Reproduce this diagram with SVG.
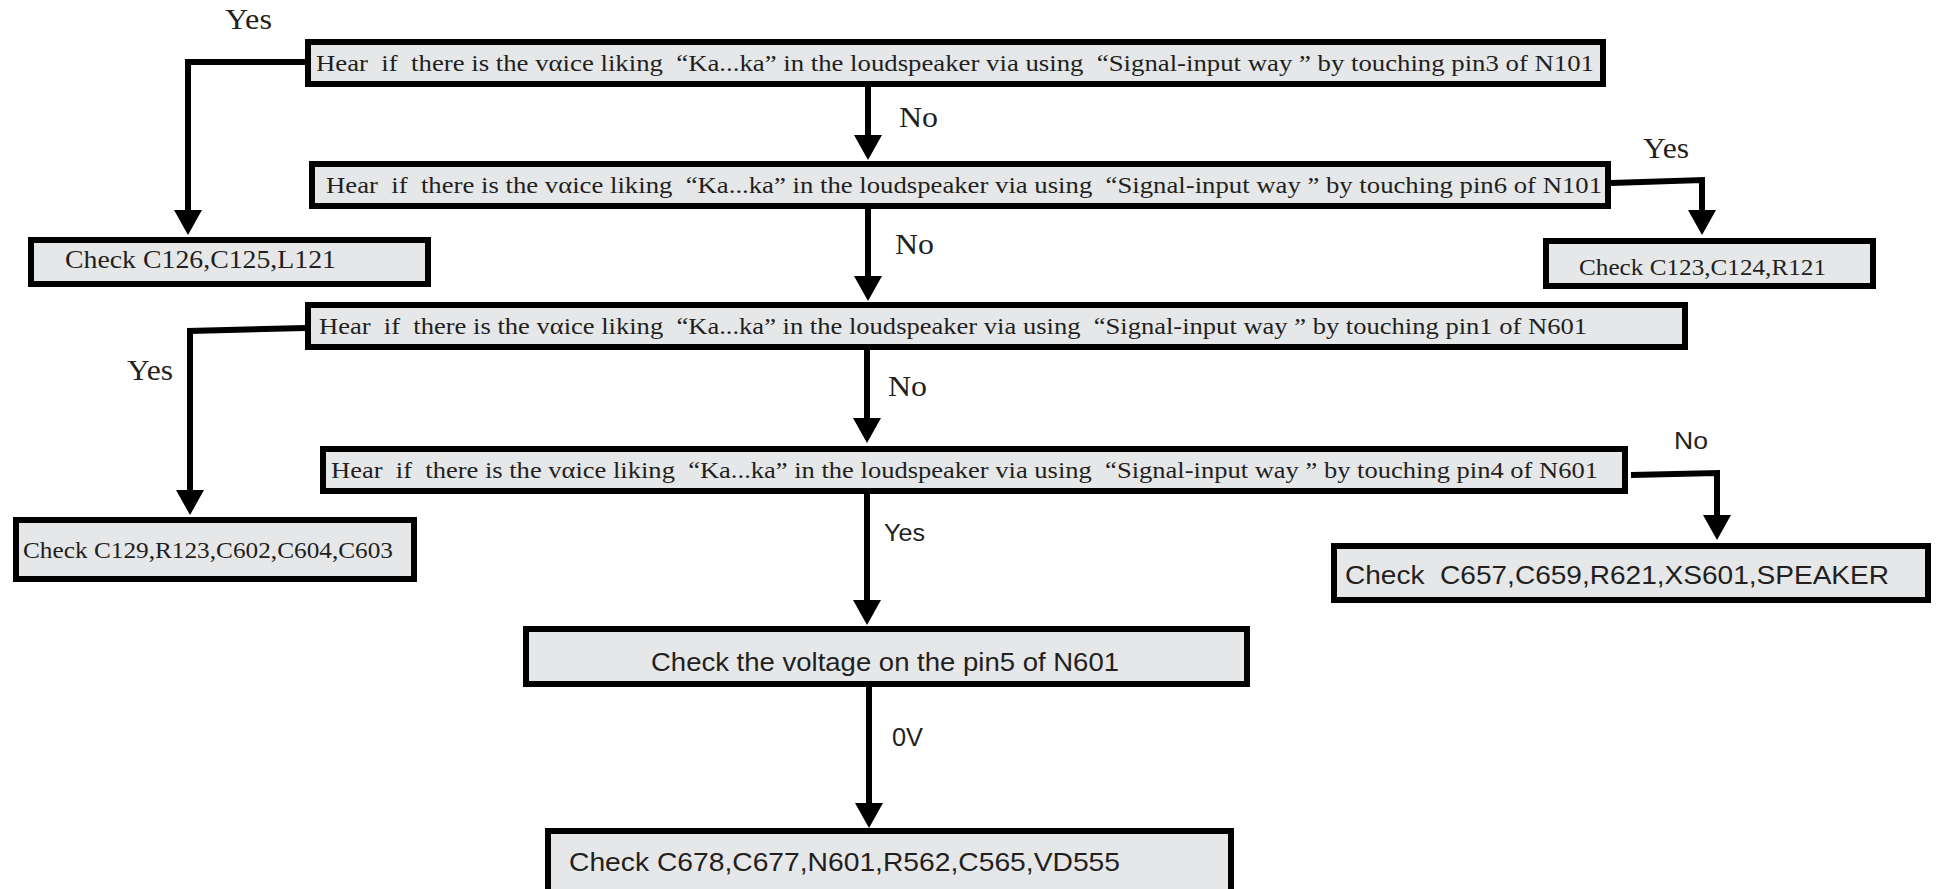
<svg xmlns="http://www.w3.org/2000/svg" width="1937" height="889" viewBox="0 0 1937 889">
  <style>
    .box { fill: #e6e7e9; stroke: #000; stroke-width: 6; }
    .serif { font-family: "Liberation Serif", "Times New Roman", serif; fill: #231f20; }
    .sans { font-family: "Liberation Sans", Arial, sans-serif; fill: #231f20; }
    .step { font-size: 24px; }
    .lbl { font-size: 30px; }
    .conn { fill: none; stroke: #000; stroke-width: 6; stroke-linejoin: miter; }
  </style>
  <defs>
    <marker id="arrow" markerUnits="userSpaceOnUse" markerWidth="26" markerHeight="28" viewBox="0 0 25 28" refX="0" refY="14" orient="auto">
      <path d="M0,0 L25,14 L0,28 Z" fill="#000"/>
    </marker>
  </defs>

  <rect width="1937" height="889" fill="#fff"/>

  <!-- connectors -->
  <g id="connectors">
    <path class="conn" d="M305,62 L188,62 L188,210" marker-end="url(#arrow)"/>
    <path class="conn" d="M868,87 L868,135" marker-end="url(#arrow)"/>
    <path class="conn" d="M1611,183 L1702,180 L1702,210" marker-end="url(#arrow)"/>
    <path class="conn" d="M868,209 L868,276" marker-end="url(#arrow)"/>
    <path class="conn" d="M305,328 L190,331 L190,490" marker-end="url(#arrow)"/>
    <path class="conn" d="M867,350 L867,418" marker-end="url(#arrow)"/>
    <path class="conn" d="M1631,475 L1717,473 L1717,515" marker-end="url(#arrow)"/>
    <path class="conn" d="M867,494 L867,600" marker-end="url(#arrow)"/>
    <path class="conn" d="M869,687 L869,803" marker-end="url(#arrow)"/>

    <text class="serif lbl" x="225" y="29" textLength="47" lengthAdjust="spacingAndGlyphs">Yes</text>
    <text class="serif lbl" x="899" y="127" textLength="39" lengthAdjust="spacingAndGlyphs">No</text>
    <text class="serif lbl" x="1643" y="158" textLength="46" lengthAdjust="spacingAndGlyphs">Yes</text>
    <text class="serif lbl" x="895" y="254" textLength="39" lengthAdjust="spacingAndGlyphs">No</text>
    <text class="serif lbl" x="127" y="380" textLength="46" lengthAdjust="spacingAndGlyphs">Yes</text>
    <text class="serif lbl" x="888" y="396" textLength="39" lengthAdjust="spacingAndGlyphs">No</text>
    <text class="sans" font-size="24" x="1674" y="449" textLength="34" lengthAdjust="spacingAndGlyphs">No</text>
    <text class="sans" font-size="24" x="884" y="541" textLength="41" lengthAdjust="spacingAndGlyphs">Yes</text>
    <text class="sans" font-size="25" x="892" y="746" textLength="31" lengthAdjust="spacingAndGlyphs">0V</text>
  </g>

  <g id="step-pin3-n101">
    <rect class="box" x="308" y="42" width="1295" height="42"/>
    <text class="serif step" x="316" y="71" xml:space="preserve" textLength="1278" lengthAdjust="spacingAndGlyphs">Hear  if  there is the vαice liking  “Ka...ka” in the loudspeaker via using  “Signal-input way ” by touching pin3 of N101</text>
  </g>

  <g id="step-pin6-n101">
    <rect class="box" x="312" y="164" width="1296" height="42"/>
    <text class="serif step" x="326" y="193" xml:space="preserve" textLength="1276" lengthAdjust="spacingAndGlyphs">Hear  if  there is the vαice liking  “Ka...ka” in the loudspeaker via using  “Signal-input way ” by touching pin6 of N101</text>
  </g>

  <g id="check-c126">
    <rect class="box" x="31" y="240" width="397" height="44"/>
    <text class="serif" font-size="25" x="65" y="268" textLength="271" lengthAdjust="spacingAndGlyphs">Check C126,C125,L121</text>
  </g>

  <g id="check-c123">
    <rect class="box" x="1546" y="241" width="327" height="45"/>
    <text class="serif step" x="1579" y="275" textLength="247" lengthAdjust="spacingAndGlyphs">Check C123,C124,R121</text>
  </g>

  <g id="step-pin1-n601">
    <rect class="box" x="308" y="305" width="1377" height="42"/>
    <text class="serif step" x="319" y="334" xml:space="preserve" textLength="1268" lengthAdjust="spacingAndGlyphs">Hear  if  there is the vαice liking  “Ka...ka” in the loudspeaker via using  “Signal-input way ” by touching pin1 of N601</text>
  </g>

  <g id="step-pin4-n601">
    <rect class="box" x="323" y="449" width="1302" height="42"/>
    <text class="serif step" x="331" y="478" xml:space="preserve" textLength="1267" lengthAdjust="spacingAndGlyphs">Hear  if  there is the vαice liking  “Ka...ka” in the loudspeaker via using  “Signal-input way ” by touching pin4 of N601</text>
  </g>

  <g id="check-c129">
    <rect class="box" x="16" y="520" width="398" height="59"/>
    <text class="serif step" x="23" y="558" textLength="370" lengthAdjust="spacingAndGlyphs">Check C129,R123,C602,C604,C603</text>
  </g>

  <g id="check-speaker">
    <rect class="box" x="1334" y="546" width="594" height="54"/>
    <text class="sans" font-size="25" x="1345" y="584" xml:space="preserve" textLength="544" lengthAdjust="spacingAndGlyphs">Check  C657,C659,R621,XS601,SPEAKER</text>
  </g>

  <g id="check-voltage-pin5">
    <rect class="box" x="526" y="629" width="721" height="55"/>
    <text class="sans" font-size="25" x="651" y="671" textLength="468" lengthAdjust="spacingAndGlyphs">Check the voltage on the pin5 of N601</text>
  </g>

  <g id="check-c678">
    <rect class="box" x="548" y="831" width="683" height="64"/>
    <text class="sans" font-size="25" x="569" y="871" textLength="551" lengthAdjust="spacingAndGlyphs">Check C678,C677,N601,R562,C565,VD555</text>
  </g>
</svg>
